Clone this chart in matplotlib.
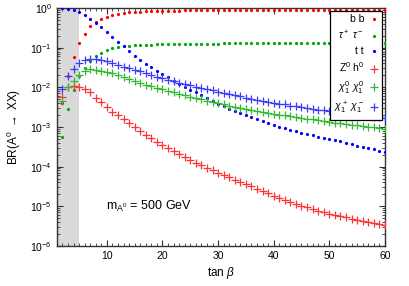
"""Branching ratios of the CP-odd Higgs A0 versus tan(beta)."""

import matplotlib

matplotlib.use("Agg")
import matplotlib.pyplot as plt
import numpy as np
from matplotlib.ticker import FixedLocator, LogLocator, NullFormatter

plt.rcParams["font.family"] = ["Liberation Sans", "DejaVu Sans"]
plt.rcParams["mathtext.fontset"] = "custom"
plt.rcParams["mathtext.rm"] = "Liberation Sans"
plt.rcParams["mathtext.it"] = "Liberation Sans:italic"

# tan(beta) grid, 2..60
tan_beta = np.arange(2, 61)

# log10(BR) at each tan(beta)
log_bb = [-2.40, -1.72, -1.23, -0.88, -0.65, -0.46, -0.36, -0.28, -0.22,
          -0.175, -0.145, -0.125, -0.11, -0.10, -0.09, -0.085, -0.08, -0.075, -0.07,
          -0.067, -0.065, -0.063, -0.061, -0.059, -0.057, -0.056, -0.055, -0.054, -0.053,
          -0.052, -0.051, -0.050, -0.050, -0.049, -0.049, -0.048, -0.048, -0.047, -0.047,
          -0.046, -0.046, -0.045, -0.045, -0.044, -0.044, -0.043, -0.043, -0.042, -0.042,
          -0.042, -0.041, -0.041, -0.041, -0.040, -0.040, -0.040, -0.040, -0.040, -0.040]
log_tautau = [-3.24, -2.55, -2.07, -1.72, -1.51, -1.34, -1.22, -1.13, -1.07,
              -1.02, -0.99, -0.97, -0.955, -0.945, -0.935, -0.93, -0.925, -0.92, -0.915,
              -0.912, -0.91, -0.907, -0.905, -0.903, -0.90, -0.90, -0.898, -0.896, -0.895,
              -0.894, -0.893, -0.892, -0.891, -0.89, -0.89, -0.889, -0.888, -0.888, -0.887,
              -0.886, -0.886, -0.885, -0.885, -0.884, -0.884, -0.883, -0.883, -0.882, -0.882,
              -0.882, -0.881, -0.881, -0.881, -0.88, -0.88, -0.88, -0.88, -0.88, -0.88]
log_tt = [-0.005, -0.025, -0.05, -0.10, -0.18, -0.275, -0.37, -0.47, -0.60,
          -0.73, -0.86, -0.97, -1.09, -1.20, -1.30, -1.40, -1.50, -1.59, -1.67,
          -1.75, -1.83, -1.91, -1.99, -2.06, -2.13, -2.20, -2.27, -2.35, -2.42,
          -2.48, -2.54, -2.60, -2.65, -2.70, -2.75, -2.80, -2.85, -2.90, -2.95,
          -2.99, -3.03, -3.07, -3.10, -3.14, -3.17, -3.20, -3.24, -3.27, -3.30,
          -3.33, -3.36, -3.40, -3.43, -3.47, -3.50, -3.53, -3.56, -3.60, -3.63]
log_zh = [-2.24, -1.98, -1.97, -1.98, -2.03, -2.13, -2.26, -2.38, -2.50,
          -2.61, -2.70, -2.80, -2.90, -3.00, -3.10, -3.19, -3.28, -3.37, -3.45,
          -3.53, -3.61, -3.68, -3.75, -3.83, -3.90, -3.97, -4.03, -4.09, -4.15,
          -4.21, -4.27, -4.33, -4.39, -4.45, -4.50, -4.56, -4.62, -4.67, -4.73,
          -4.78, -4.84, -4.89, -4.94, -4.98, -5.03, -5.07, -5.11, -5.15, -5.19,
          -5.22, -5.25, -5.28, -5.31, -5.34, -5.37, -5.39, -5.42, -5.44, -5.47]
log_n1n1 = [-2.34, -2.00, -1.83, -1.68, -1.59, -1.55, -1.56, -1.58, -1.61,
            -1.65, -1.70, -1.75, -1.80, -1.85, -1.89, -1.93, -1.97, -2.01, -2.05,
            -2.09, -2.13, -2.17, -2.20, -2.24, -2.27, -2.30, -2.34, -2.37, -2.40,
            -2.43, -2.46, -2.49, -2.52, -2.55, -2.58, -2.60, -2.62, -2.64, -2.67,
            -2.69, -2.71, -2.73, -2.75, -2.77, -2.79, -2.81, -2.83, -2.85, -2.87,
            -2.89, -2.90, -2.92, -2.94, -2.96, -2.97, -2.99, -3.01, -3.03, -3.05]
log_c1c1 = [-2.05, -1.72, -1.53, -1.38, -1.32, -1.28, -1.28, -1.30, -1.33,
            -1.38, -1.43, -1.48, -1.52, -1.56, -1.60, -1.645, -1.69, -1.73, -1.77,
            -1.81, -1.85, -1.88, -1.92, -1.95, -1.99, -2.02, -2.05, -2.08, -2.11,
            -2.14, -2.17, -2.20, -2.23, -2.26, -2.29, -2.31, -2.34, -2.36, -2.39,
            -2.41, -2.43, -2.46, -2.48, -2.50, -2.52, -2.54, -2.56, -2.58, -2.60,
            -2.62, -2.64, -2.66, -2.67, -2.69, -2.71, -2.72, -2.74, -2.75, -2.77]

# (label, values, marker, colour)
channels = [
    ("b b", log_bb, "o", "#ff0000"),
    (r"$\tau^+\ \tau^-$", log_tautau, "o", "#00a800"),
    ("t t", log_tt, "o", "#0000ff"),
    (r"Z$^0$ h$^0$", log_zh, "+", "#ff3333"),
    (r"$\chi_1^0\ \chi_1^0$", log_n1n1, "+", "#33b833"),
    (r"$\chi_1^+\ \chi_1^-$", log_c1c1, "+", "#3b3bff"),
]

fig = plt.figure(figsize=(4.09, 2.86), dpi=100)
ax = fig.add_axes([0.139, 0.140, 0.802, 0.832])

ax.axvspan(1, 5, color="#d9d9d9", lw=0, zorder=0)

for label, vals, marker, color in channels:
    br = np.power(10.0, vals)
    if marker == "o":
        ax.plot(tan_beta, br, ls="none", marker="o", ms=2.3, mew=0,
                color=color, label=label, zorder=3)
    else:
        ax.plot(tan_beta, br, ls="none", marker="+", ms=5.2, mew=0.9,
                color=color, label=label, zorder=3)

ax.set_yscale("log")
ax.set_xlim(1, 60)
ax.set_ylim(1e-6, 1)

ax.xaxis.set_major_locator(FixedLocator([10, 20, 30, 40, 50, 60]))
ax.xaxis.set_minor_locator(FixedLocator(np.arange(1, 61)))
ax.yaxis.set_minor_locator(LogLocator(base=10, subs=np.arange(2, 10), numticks=10))
ax.yaxis.set_minor_formatter(NullFormatter())
ax.set_yticks([1e-6, 1e-5, 1e-4, 1e-3, 1e-2, 1e-1, 1])
ax.set_yticklabels([r"10$^{-6}$", r"10$^{-5}$", r"10$^{-4}$", r"10$^{-3}$",
                    r"10$^{-2}$", r"10$^{-1}$", r"10$^{0}$"])

ax.tick_params(which="both", direction="in", top=True, right=True,
               labelsize=7.5, color="#333333")
ax.tick_params(which="major", length=4, width=0.8)
ax.tick_params(which="minor", length=2, width=0.6)
for s in ax.spines.values():
    s.set_linewidth(1.0)
    s.set_color("#333333")

ax.set_xlabel(r"tan $\beta$", fontsize=8.5, labelpad=3)
ax.set_ylabel(r"BR(A$^0$ $\rightarrow$ XX)", fontsize=8.5, labelpad=5)

ax.text(9.9, 1.0e-5, r"m$_{\mathrm{A}^0}$ = 500 GeV", fontsize=9, va="center")

leg = ax.legend(loc="upper right", markerfirst=False, fontsize=7.5,
                handlelength=0.9, handletextpad=0.5, labelspacing=0.42,
                borderpad=0.35, borderaxespad=0.25, fancybox=False,
                framealpha=1, edgecolor="black")
leg.get_frame().set_linewidth(0.9)
leg.set_zorder(5)

fig.savefig("out.png", dpi=100)
